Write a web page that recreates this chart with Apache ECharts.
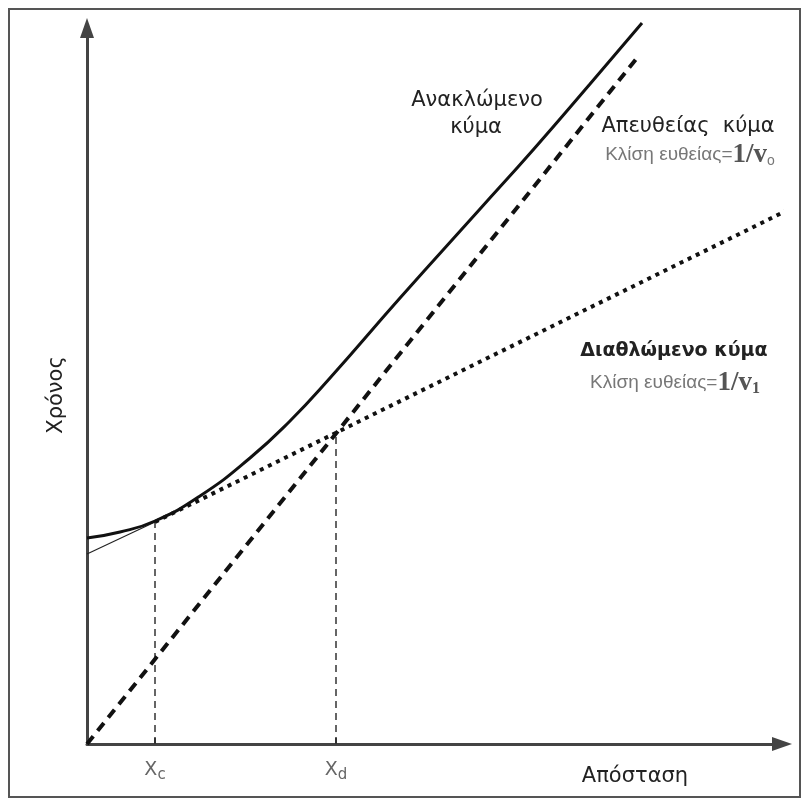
<!DOCTYPE html>
<html><head><meta charset="utf-8">
<script src="https://cdn.jsdelivr.net/npm/echarts@6/dist/echarts.min.js"></script>
<style>html,body{margin:0;padding:0;background:#fff}#c{width:803px;height:800px}</style>
</head><body><div id="c"></div>
<script>
// Distance (x) and time (t) values, arbitrary units
const tickValues = [68, 249];          // X_c, X_d
const tickSubs = ['c', 'd'];
const reflectedX = [0, 33, 68, 113, 163, 203, 243, 313, 393, 446, 503, 555];
const reflectedT = [206, 212, 223, 248, 286, 323, 366, 446, 535, 594, 660, 721];
const directX = [0, 550];
const directT = [0, 686];
const refractedX = [68, 713];
const refractedT = [222, 540];
const refractedExtX = [0, 68];
const refractedExtT = [190, 222];
const crossT = [222, 312];             // time at X_c and X_d

const zip = (a, b) => a.map((v, i) => [v, b[i]]);

const chart = echarts.init(document.getElementById('c'), null, {renderer: 'canvas'});
const sans = '"DejaVu Sans", sans-serif';
const option = {
  backgroundColor: '#fff',
  animation: false,
  grid: {left: 87, right: 21, top: 28, bottom: 56},
  xAxis: {
    type: 'value', min: 0, max: 695,
    splitLine: {show: false},
    axisLine: {show: true, symbol: ['none', 'triangle'], symbolSize: [14, 20],
      lineStyle: {color: '#444', width: 3}},
    axisTick: {show: true, inside: true, length: 6, customValues: tickValues,
      lineStyle: {color: '#333', width: 2}},
    axisLabel: {show: true, customValues: tickValues, margin: 14,
      formatter: v => '{x|X}{s|' + tickSubs[tickValues.indexOf(v)] + '}',
      rich: {
        x: {fontFamily: sans, fontSize: 19, color: '#666'},
        s: {fontFamily: sans, fontSize: 15, color: '#666', padding: [10, 0, 0, 0]}
      }}
  },
  yAxis: {
    type: 'value', min: 0, max: 716,
    splitLine: {show: false},
    axisLine: {show: true, symbol: ['none', 'triangle'], symbolSize: [14, 20],
      lineStyle: {color: '#444', width: 3}},
    axisTick: {show: false},
    axisLabel: {show: false}
  },
  series: [
    {type: 'line', name: 'Xc', data: [[tickValues[0], 0], [tickValues[0], crossT[0]]],
     symbol: 'none', clip: false, lineStyle: {color: '#333', width: 1.5, type: [7, 5]}},
    {type: 'line', name: 'Xd', data: [[tickValues[1], 0], [tickValues[1], crossT[1]]],
     symbol: 'none', clip: false, lineStyle: {color: '#333', width: 1.5, type: [7, 5]}},
    {type: 'line', name: 'Διαθλώμενο (προέκταση)', data: zip(refractedExtX, refractedExtT),
     symbol: 'none', clip: false, lineStyle: {color: '#222', width: 1.2}},
    {type: 'line', name: 'Διαθλώμενο κύμα', data: zip(refractedX, refractedT),
     symbol: 'none', clip: false, lineStyle: {color: '#111', width: 4, type: [4, 5]}},
    {type: 'line', name: 'Απευθείας κύμα', data: zip(directX, directT),
     symbol: 'none', clip: false, lineStyle: {color: '#111', width: 4, type: [10, 7]}},
    {type: 'line', name: 'Ανακλώμενο κύμα', data: zip(reflectedX, reflectedT),
     symbol: 'none', clip: false, smooth: 0.5, lineStyle: {color: '#111', width: 3}}
  ],
  graphic: [
    {type: 'rect', shape: {x: 9, y: 9, width: 791, height: 788}, silent: true,
     style: {fill: 'none', stroke: '#555', lineWidth: 2}},
    {type: 'text', x: 477, y: 101, style: {text: 'Ανακλώμενο', align: 'center', verticalAlign: 'middle',
      font: '21px ' + sans, fill: '#222'}},
    {type: 'text', x: 476, y: 128, style: {text: 'κύμα', align: 'center', verticalAlign: 'middle',
      font: '21px ' + sans, fill: '#222'}},
    {type: 'text', x: 688, y: 127, style: {text: 'Απευθείας  κύμα', align: 'center', verticalAlign: 'middle',
      font: '500 21px ' + sans, fill: '#222'}},
    {type: 'text', x: 690, y: 155, style: {
      text: '{a|Κλίση ευθείας=}{b|1/v}{s|o}', align: 'center', verticalAlign: 'middle',
      rich: {
        a: {fontFamily: '"Liberation Sans", Arial, sans-serif', fontSize: 19, fill: '#777'},
        b: {fontFamily: '"Liberation Serif", serif', fontWeight: 'bold', fontSize: 27, fill: '#555'},
        s: {fontFamily: '"Liberation Sans", sans-serif', fontSize: 14, fill: '#777', padding: [12, 0, 0, 0]}
      }}},
    {type: 'text', x: 674, y: 351, style: {text: 'Διαθλώμενο κύμα', align: 'center', verticalAlign: 'middle',
      font: 'bold 19px ' + sans, fill: '#222'}},
    {type: 'text', x: 675, y: 383, style: {
      text: '{a|Κλίση ευθείας=}{b|1/v}{s|1}', align: 'center', verticalAlign: 'middle',
      rich: {
        a: {fontFamily: '"Liberation Sans", Arial, sans-serif', fontSize: 19, fill: '#777'},
        b: {fontFamily: '"Liberation Serif", serif', fontWeight: 'bold', fontSize: 27, fill: '#555'},
        s: {fontFamily: '"Liberation Serif", serif', fontWeight: 'bold', fontSize: 16, fill: '#555', padding: [12, 0, 0, 0]}
      }}},
    {type: 'text', x: 635, y: 777, style: {text: 'Απόσταση', align: 'center', verticalAlign: 'middle',
      font: '21px ' + sans, fill: '#222'}},
    {type: 'text', x: 57, y: 395, rotation: Math.PI / 2, style: {text: 'Χρόνος', align: 'center', verticalAlign: 'middle',
      font: '21px ' + sans, fill: '#222'}}
  ]
};
chart.setOption(option);
</script>
</body></html>
